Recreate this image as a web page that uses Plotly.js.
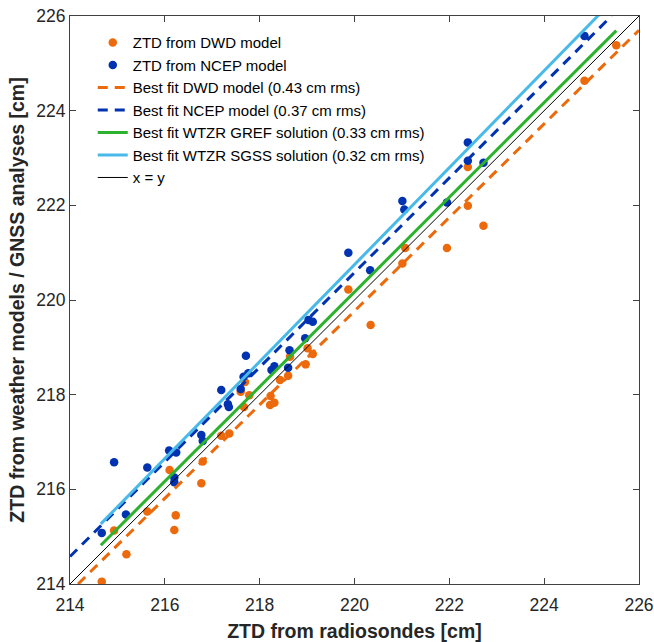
<!DOCTYPE html>
<html>
<head>
<meta charset="utf-8">
<script src="https://cdn.plot.ly/plotly-3.0.1.min.js"></script>
<style>html,body{margin:0;padding:0;background:#fff;}#chart{width:654px;height:642px;}</style>
</head>
<body>
<div id="chart"></div>
<script>
// DWD model ZTD vs radiosonde ZTD [cm]
const dwdX = [214.67,214.93,215.19,215.63,216.10,216.20,216.23,216.77,216.80,217.19,217.36,217.60,217.69,217.67,217.78,218.22,218.31,218.23,218.43,218.60,218.64,218.97,219.01,219.12,219.87,220.34,221.01,221.07,221.95,222.39,222.39,222.72,224.85,225.52];
const dwdY = [214.05,215.13,214.63,215.53,216.41,215.14,215.45,216.13,216.59,217.13,217.18,218.06,218.27,217.74,217.99,217.78,217.83,217.97,218.31,218.40,218.80,218.64,218.98,218.86,220.22,219.47,220.77,221.10,221.10,221.99,222.81,221.57,224.63,225.38];
// NCEP model ZTD vs radiosonde ZTD [cm]
const ncepX = [214.67,214.93,215.18,215.63,216.09,216.24,216.20,216.20,216.77,216.80,217.19,217.33,217.35,217.60,217.66,217.76,217.71,218.25,218.31,218.60,218.63,218.96,219.03,219.12,219.87,220.33,221.01,221.05,221.95,222.39,222.39,222.72,224.85];
const ncepY = [215.08,216.57,215.47,216.46,216.82,216.78,216.25,216.15,217.15,217.02,218.10,217.80,217.74,218.12,218.38,218.45,218.82,218.52,218.60,218.57,218.94,219.19,219.58,219.54,221.00,220.63,222.09,221.91,222.06,223.33,222.94,222.90,225.58];
// Best-fit line end points
const fitDwdX = [214.17, 226.0];
const fitDwdY = [214.0, 225.7];
const fitNcepX = [214.0, 225.42];
const fitNcepY = [214.58, 226.0];
const fitGrefX = [214.65, 225.52];
const fitGrefY = [214.82, 225.69];
const fitSgssX = [214.65, 225.52];
const fitSgssY = [215.27, 226.40];
const idX = [214, 226];
const idY = [214, 226];
const xTicks = [214,216,218,220,222,224,226];

const orange = 'rgb(236,106,12)';
const blue = 'rgb(0,50,178)';
const green = 'rgb(44,178,44)';
const cyan = 'rgb(72,186,234)';

const traces = [
  {x: dwdX, y: dwdY, mode: 'markers', type: 'scatter', name: 'ZTD from DWD model',
   marker: {color: orange, size: 8.5}},
  {x: ncepX, y: ncepY, mode: 'markers', type: 'scatter', name: 'ZTD from NCEP model',
   marker: {color: blue, size: 8.5}},
  {x: fitDwdX, y: fitDwdY, mode: 'lines', type: 'scatter', name: 'Best fit DWD model (0.43 cm rms)',
   line: {color: orange, width: 3, dash: '10px,7px'}},
  {x: fitNcepX, y: fitNcepY, mode: 'lines', type: 'scatter', name: 'Best fit NCEP model (0.37 cm rms)',
   line: {color: blue, width: 3, dash: '10px,7px'}},
  {x: fitGrefX, y: fitGrefY, mode: 'lines', type: 'scatter', name: 'Best fit WTZR GREF solution (0.33 cm rms)',
   line: {color: green, width: 3}},
  {x: fitSgssX, y: fitSgssY, mode: 'lines', type: 'scatter', name: 'Best fit WTZR SGSS solution (0.32 cm rms)',
   line: {color: cyan, width: 3}},
  {x: idX, y: idY, mode: 'lines', type: 'scatter', name: 'x = y',
   line: {color: 'black', width: 1}}
];

const axisCommon = {
  range: [214, 226], tickvals: xTicks, ticktext: xTicks.map(String),
  showgrid: false, zeroline: false, showline: true, linecolor: '#404040', linewidth: 1,
  mirror: 'ticks', ticks: 'inside', ticklen: 6, tickcolor: '#404040', tickwidth: 1,
  tickfont: {family: 'Liberation Sans, Arial, sans-serif', size: 17.5, color: '#262626'}
};

const layout = {
  width: 654, height: 642,
  margin: {l: 70, r: 15, t: 16, b: 58},
  paper_bgcolor: 'white', plot_bgcolor: 'white',
  showlegend: true,
  legend: {x: 0.04, y: 0.982, xanchor: 'left', yanchor: 'top', bgcolor: 'rgba(255,255,255,0)',
           borderwidth: 0, tracegroupgap: 0,
           font: {family: 'Liberation Sans, Arial, sans-serif', size: 15, color: '#000'}},
  xaxis: Object.assign({}, axisCommon, {
    ticklabelstandoff: 5,
    title: {text: '<b>ZTD from radiosondes [cm]</b>', standoff: 10,
            font: {family: 'Liberation Sans, Arial, sans-serif', size: 19.5, color: '#262626'}}
  }),
  yaxis: Object.assign({}, axisCommon, {
    title: {text: '<b>ZTD from weather models / GNSS analyses [cm]</b>', standoff: 6,
            font: {family: 'Liberation Sans, Arial, sans-serif', size: 19.5, color: '#262626'}}
  })
};

Plotly.newPlot('chart', traces, layout, {displayModeBar: false, staticPlot: true});
</script>
</body>
</html>
